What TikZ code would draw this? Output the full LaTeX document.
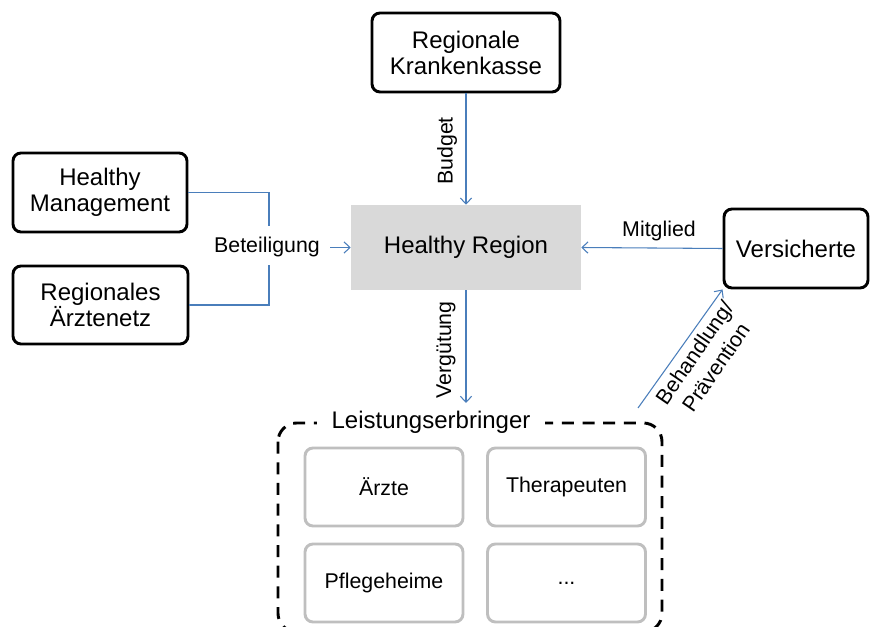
\documentclass[tikz,border=0pt]{standalone}
\usepackage{fontspec}
\setmainfont{Liberation Sans}
\usetikzlibrary{arrows.meta}
\definecolor{conn}{HTML}{4A7EBB}
\definecolor{hrfill}{HTML}{D9D9D9}
\definecolor{innerb}{HTML}{BFBFBF}
\tikzset{
  mainbox/.style={draw=black, line width=2.2pt, rounded corners=6pt, fill=white, align=center,
    font=\fontsize{18}{19.5}\selectfont, inner sep=0pt},
  innerbox/.style={draw=innerb, line width=2.2pt, rounded corners=6pt, fill=white, align=center,
    font=\fontsize{16}{19.5}\selectfont, minimum width=118.5pt, minimum height=58.5pt, inner sep=0pt},
  conline/.style={draw=conn, line width=0.8pt},
  conarrow/.style={conline, -{Straight Barb[length=4.5pt,width=8.5pt,line width=0.8pt]}},
  lbl/.style={font=\fontsize{16}{19.5}\selectfont, inner sep=0pt, align=center},
}
\begin{document}
\begin{tikzpicture}[x=0.75pt,y=-0.75pt]
\useasboundingbox (0,0) rectangle (872,627);

% main nodes
\node[mainbox, minimum width=141pt, minimum height=59.25pt] (krank) at (466,52.5) {Regionale\\Krankenkasse};
\node[mainbox, minimum width=130.5pt, minimum height=59.25pt] (hm) at (100,192.5) {Healthy\\Management};
\node[mainbox, minimum width=131.25pt, minimum height=58.5pt] (rae) at (100.5,305) {Regionales\\Ärztenetz};
\node[fill=hrfill, minimum width=172.5pt, minimum height=63.75pt, inner sep=0pt,
      font=\fontsize{18}{19.5}\selectfont] (hr) at (466,247.5) {Healthy Region};
\node[mainbox, minimum width=108pt, minimum height=59.25pt] (vers) at (796,248.5) {Versicherte};

% container
\draw[line width=2.2pt, dash pattern=on 9pt off 6.5pt, rounded corners=14pt]
  (278,423) rectangle (662,632);
\node[fill=white, inner xsep=11pt, inner ysep=2pt, font=\fontsize{18}{19.5}\selectfont] (leist) at (431,422) {Leistungserbringer};

\node[innerbox] (aerzte) at (384,487) {Ärzte};
\node[innerbox] (thera) at (566.5,487) {Therapeuten};
\node[innerbox] (pflege) at (384,583) {Pflegeheime};
\node[innerbox] (more) at (566.5,583) {...};

% Beteiligung
\coordinate (b1) at (269,226);
\coordinate (b2) at (269,265);
\coordinate (b3) at (330,247.5);
\draw[conline] (hm.east) -| (b1);
\draw[conline] (rae.east) -| (b2);
\node[lbl] (betl) at (267,247) {Beteiligung};
\draw[conarrow] (b3) -- (hr.west);

% Budget
\draw[conarrow] (krank.south) -- (hr.north);
\node[lbl, rotate=90] (budl) at (447,151) {Budget};

% Mitglied
\draw[conarrow] (vers.west) -- (hr.east);
\node[lbl] (mitl) at (659,231) {Mitglied};

% Verguetung
\coordinate (vtip) at (466,403);
\draw[conarrow] (hr.south) -- (vtip);
\node[lbl, rotate=90] (verl) at (446,350) {Vergütung};

% Behandlung
\coordinate (bstart) at (638,408);
\draw[conarrow] (bstart) -- (vers.south west);
\node[lbl, rotate=55.5] (behl) at (705,360) {Behandlung/\\Prävention};
\end{tikzpicture}
\end{document}
